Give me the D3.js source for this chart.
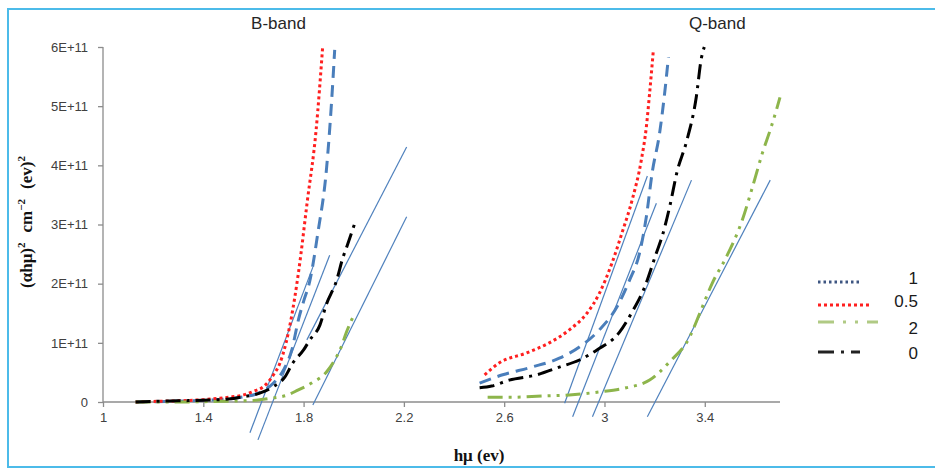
<!DOCTYPE html>
<html>
<head>
<meta charset="utf-8">
<script src="https://cdn.jsdelivr.net/npm/d3@7/dist/d3.min.js"></script>
<style>
	body{ margin:0; background:#fff; }
	svg{ display:block; }
</style>
</head>
<body>
<div id="chart"></div>
<script>
// y in units of 1E+11
var UNIT = 1e11;
var xTicks = [1, 1.4, 1.8, 2.2, 2.6, 3, 3.4];
var yTicks = [0, 1, 2, 3, 4, 5, 6];
var bandTitles = ["B-band", "Q-band"];
var bandTitleX = [1.7, 3.45];

// [hμ, (αhμ)²] for each sample, B-band then Q-band
var s1B = [[1.13,0],[1.25,0.01],[1.35,0.02],[1.45,0.04],[1.55,0.08],[1.63,0.17],[1.68,0.32],[1.72,0.54],[1.753,0.88],[1.78,1.4],[1.80,1.7],[1.825,2.05],[1.857,2.86],[1.892,3.97],[1.912,5.1],[1.924,5.95]];
var s1Q = [[2.502,0.32],[2.594,0.46],[2.71,0.59],[2.82,0.74],[2.9,0.93],[2.98,1.22],[3.05,1.61],[3.1,2.06],[3.14,2.52],[3.167,3.13],[3.19,3.87],[3.22,4.55],[3.24,5.22],[3.255,5.83]];
var s05B = [[1.13,0],[1.2,0.01],[1.3,0.02],[1.4,0.04],[1.5,0.08],[1.56,0.12],[1.6,0.18],[1.64,0.26],[1.68,0.46],[1.705,0.65],[1.73,1.0],[1.75,1.4],[1.78,2.2],[1.815,3.4],[1.85,4.6],[1.876,6.0]];
var s05Q = [[2.522,0.46],[2.58,0.66],[2.69,0.83],[2.78,1.0],[2.86,1.22],[2.93,1.5],[2.98,1.84],[3.03,2.35],[3.07,2.86],[3.11,3.41],[3.147,4.09],[3.167,4.65],[3.18,5.22],[3.195,5.95]];
var s2B = [[1.13,0],[1.3,0],[1.45,0.01],[1.55,0.02],[1.61,0.03],[1.68,0.07],[1.737,0.12],[1.777,0.2],[1.832,0.32],[1.892,0.51],[1.924,0.71],[1.95,0.93],[1.97,1.17],[2.004,1.5]];
var s2Q = [[2.534,0.08],[2.63,0.08],[2.75,0.1],[2.86,0.12],[2.98,0.17],[3.087,0.24],[3.18,0.37],[3.26,0.68],[3.34,1.1],[3.38,1.5],[3.43,2.01],[3.486,2.45],[3.55,3.08],[3.59,3.63],[3.63,4.21],[3.665,4.65],[3.69,5.0],[3.70,5.15]];
var s0B = [[1.13,0],[1.2,0.01],[1.3,0.02],[1.4,0.03],[1.5,0.05],[1.56,0.09],[1.625,0.15],[1.68,0.26],[1.725,0.42],[1.757,0.66],[1.80,0.88],[1.825,1.05],[1.865,1.3],[1.89,1.64],[1.932,2.06],[1.956,2.43],[1.972,2.62],[2.004,3.02]];
var s0Q = [[2.502,0.24],[2.55,0.27],[2.62,0.37],[2.73,0.46],[2.82,0.59],[2.9,0.71],[2.97,0.88],[3.06,1.18],[3.11,1.52],[3.16,1.94],[3.207,2.52],[3.23,2.8],[3.26,3.3],[3.29,3.9],[3.327,4.4],[3.366,5.15],[3.386,5.8],[3.398,6.0]];

// tangent lines: [x0, y0, x1, y1]
var tangents = [
	[1.586,-0.52,1.837,2.28],[1.618,-0.64,1.904,2.48],[1.813,1.05,2.211,4.31],[1.837,-0.05,2.211,3.13],
	[2.841,-0.02,3.171,3.82],[2.873,-0.25,3.207,3.36],[2.952,-0.25,3.347,3.75],[3.171,-0.25,3.661,3.75]
];

var series = [
	{name:"1",   bands:[s1B, s1Q],   color:"#4a7ebb", dash:"12,7",          legColor:"#3e5682", legDash:"2.5,3", legLen:42},
	{name:"0.5", bands:[s05B, s05Q], color:"#ff1f1f", dash:"3,3",           legColor:"#ff1f1f", legDash:"3,3",   legLen:52},
	{name:"2",   bands:[s2B, s2Q],   color:"#8db54b", dash:"15,6,3,6,3,6",  legColor:"#b0ca84", legDash:"16,9,3,9,3,9", legLen:60},
	{name:"0",   bands:[s0B, s0Q],   color:"#000000", dash:"15,6,3,6",      legColor:"#222222", legDash:"16,7,3,7", legLen:42}
];

var width = 935, height = 468;
var svg = d3.select("#chart").append("svg").attr("width",width).attr("height",height);

// light blue frame
svg.append("rect").attr("x",8).attr("y",9).attr("width",940).attr("height",458)
	.attr("fill","none").attr("stroke","#4cbbe9").attr("stroke-width",2);

var x = d3.scaleLinear().domain([1, 3.7]).range([103, 780]);
var y = d3.scaleLinear().domain([0, 6*UNIT]).range([402, 47]);

// axes
var xAxis = svg.append("g").attr("transform","translate(0,402)")
	.call(d3.axisBottom(x).tickValues(xTicks).tickSize(5).tickPadding(6).tickFormat(d3.format("")));
var yAxis = svg.append("g").attr("transform","translate(103,0)")
	.call(d3.axisLeft(y).tickValues(yTicks.map(function(t){ return t*UNIT; })).tickSize(5).tickPadding(10)
		.tickFormat(function(d){ return d === 0 ? "0" : (d/UNIT) + "E+11"; }));
[xAxis, yAxis].forEach(function(a){
	a.select(".domain").attr("stroke","#8c8c8c").attr("stroke-width",1.3);
	a.selectAll(".tick line").attr("stroke","#8c8c8c").attr("stroke-width",1.3);
	a.selectAll(".tick text").attr("fill","#404040").style("font-family","Liberation Sans, Arial, sans-serif").style("font-size","13px");
});
yAxis.select(".domain").attr("d","M0," + y(6*UNIT) + "V" + y(0));
xAxis.select(".domain").attr("d","M" + x(1) + ",0H" + x(3.7));

// tangent lines
svg.append("g").selectAll("line").data(tangents).enter().append("line")
	.attr("x1",function(d){ return x(d[0]); })
	.attr("y1",function(d){ return y(d[1]*UNIT); })
	.attr("x2",function(d){ return x(d[2]); })
	.attr("y2",function(d){ return y(d[3]*UNIT); })
	.attr("stroke","#4f81bd").attr("stroke-width",1.2);

// curves
var line = d3.line()
	.x(function(d){ return x(d[0]); })
	.y(function(d){ return y(d[1]*UNIT); })
	.curve(d3.curveMonotoneX);

series.forEach(function(s){
	s.bands.forEach(function(b){
		svg.append("path").datum(b)
			.attr("d",line)
			.attr("fill","none")
			.attr("stroke",s.color)
			.attr("stroke-width",3)
			.attr("stroke-dasharray",s.dash);
	});
});

// band titles
svg.append("g").selectAll("text").data(bandTitles).enter().append("text")
	.attr("x",function(d,i){ return x(bandTitleX[i]); })
	.attr("y",29)
	.attr("text-anchor","middle")
	.style("font-family","Liberation Sans, Arial, sans-serif")
	.style("font-size","17px")
	.attr("fill","#262626")
	.text(function(d){ return d; });

// axis titles
var yt = svg.append("text")
	.attr("transform","translate(32,222) rotate(-90)")
	.attr("text-anchor","middle")
	.style("font-family","Liberation Serif, Times New Roman, serif")
	.style("font-weight","bold")
	.style("font-size","17px")
	.attr("fill","#111");
yt.append("tspan").text("(αhμ)");
yt.append("tspan").attr("dy",-7).style("font-size","11px").text("2");
yt.append("tspan").attr("dy",7).attr("dx",10).text("cm");
yt.append("tspan").attr("dy",-7).style("font-size","11px").text("−2");
yt.append("tspan").attr("dy",7).attr("dx",10).text("(ev)");
yt.append("tspan").attr("dy",-7).style("font-size","11px").text("2");

svg.append("text")
	.attr("x",479).attr("y",461)
	.attr("text-anchor","middle")
	.style("font-family","Liberation Serif, Times New Roman, serif")
	.style("font-weight","bold")
	.style("font-size","17px")
	.attr("fill","#111")
	.text("hμ (ev)");

// legend
var legY = [282, 305, 322, 352];
var legTextY = [278, 301, 328, 353];
var leg = svg.append("g");
series.forEach(function(s,i){
	leg.append("line")
		.attr("x1",818).attr("x2",818 + s.legLen)
		.attr("y1",legY[i]).attr("y2",legY[i])
		.attr("stroke",s.legColor).attr("stroke-width",3)
		.attr("stroke-dasharray",s.legDash);
	leg.append("text")
		.attr("x",918).attr("y",legTextY[i])
		.attr("dy","0.35em")
		.attr("text-anchor","end")
		.style("font-family","Liberation Sans, Arial, sans-serif")
		.style("font-size","17px")
		.attr("fill","#1a1a1a")
		.text(s.name);
});
</script>
</body>
</html>
